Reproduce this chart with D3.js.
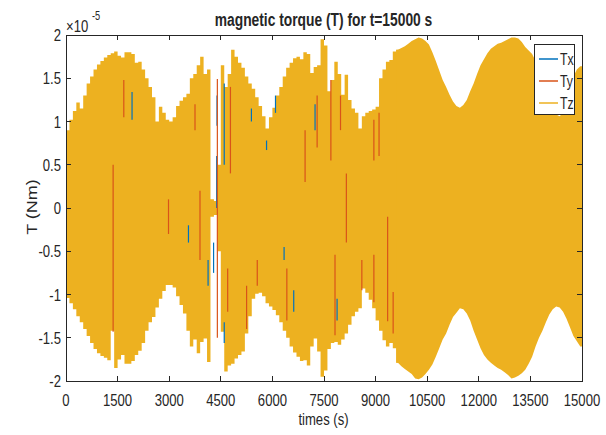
<!DOCTYPE html>
<html>
<head>
<meta charset="utf-8">
<script src="https://cdn.jsdelivr.net/npm/d3@7/dist/d3.min.js"></script>
<style>
  html, body { margin: 0; padding: 0; background: #fff; }
  svg { display: block; }
  text { font-family: "Liberation Sans", Arial, Helvetica, sans-serif; fill: #262626; }
</style>
</head>
<body>
<svg id="chart" width="606" height="435"></svg>
<script>
// Envelope of the dense torque signal, in units of 1e-5 N·m, one value per 100 s bin
const binSize = 100;
const tzHigh = [
  0.90, 1.02, 1.12, 1.22, 1.15, 1.30, 1.44, 1.52, 1.60, 1.66,
  1.70, 1.74, 1.77, 1.79, 1.81, 1.76, 1.74, 1.80, 1.80, 1.78,
  1.68, 1.69, 1.60, 1.50, 1.40, 1.28, 1.00, 1.17, 1.10, 1.02,
  1.00, 1.05, 1.18, 1.24, 1.28, 1.32, 1.50, 1.55, 1.65, 1.75,
  1.55, 1.60, 0.10, 0.08, 0.50, 1.65, 1.40, 1.55, 1.83, 1.75,
  1.68, 1.62, 1.52, 1.44, 1.38, 1.28, 1.18, 1.06, 0.92, 1.05,
  1.16, 1.30, 1.40, 1.52, 1.62, 1.68, 1.73, 1.75, 1.72, 1.80,
  1.78, 1.56, 1.63, 1.65, 1.95, 1.88, 1.35, 1.48, 1.69, 1.55,
  1.31, 1.54, 1.25, 1.15, 1.10, 0.92, 1.06, 1.10, 1.12, 1.14,
  1.17, 1.50, 1.60, 1.69, 1.71, 1.81, 1.83, 1.85, 1.87, 1.90,
  1.93, 1.95, 1.97, 1.96, 1.93, 1.89, 1.80, 1.70, 1.59, 1.48,
  1.40, 1.31, 1.23, 1.18, 1.16, 1.19, 1.25, 1.35, 1.44, 1.55,
  1.65, 1.72, 1.79, 1.84, 1.87, 1.90, 1.91, 1.93, 1.95, 1.97,
  1.97, 1.96, 1.92, 1.86, 1.82, 1.78, 1.70, 1.60, 1.48, 1.36,
  1.25, 1.15, 1.08, 1.06, 1.10, 1.22, 1.38, 1.52, 1.60, 1.64
];
const tzLow = [
  -1.04, -1.10, -1.17, -1.25, -1.32, -1.40, -1.48, -1.56, -1.63, -1.68,
  -1.71, -1.73, -1.76, -1.42, -1.85, -1.75, -1.70, -1.80, -1.80, -1.77,
  -1.70, -1.65, -1.56, -1.42, -1.32, -1.26, -1.15, -1.05, -0.96, -0.89,
  -0.89, -0.92, -1.02, -1.12, -1.22, -1.42, -1.60, -1.52, -1.68, -1.55,
  -1.51, -1.78, -0.10, -0.08, -0.50, -1.43, -1.89, -1.82, -1.80, -1.74,
  -1.70, -1.66, -1.45, -1.25, -1.05, -0.99, -0.98, -1.02, -1.10, -1.14,
  -1.18, -1.24, -1.32, -1.42, -1.50, -1.60, -1.67, -1.72, -1.77, -1.76,
  -1.82, -1.60, -1.51, -1.66, -1.95, -1.88, -1.63, -1.56, -1.55, -1.58,
  -1.52, -1.45, -1.35, -1.25, -1.20, -1.16, -0.93, -0.98, -1.06, -1.16,
  -1.30, -1.42, -1.53, -1.60, -1.56, -1.62, -1.79, -1.83, -1.86, -1.89,
  -1.92, -1.97, -1.98, -1.96, -1.92, -1.87, -1.81, -1.72, -1.62, -1.52,
  -1.45, -1.35, -1.26, -1.21, -1.16, -1.17, -1.22, -1.30, -1.42, -1.52,
  -1.62, -1.70, -1.75, -1.79, -1.82, -1.85, -1.87, -1.90, -1.93, -1.97,
  -1.96, -1.94, -1.91, -1.87, -1.80, -1.72, -1.60, -1.50, -1.42, -1.32,
  -1.23, -1.17, -1.14, -1.15, -1.20, -1.28, -1.38, -1.48, -1.54, -1.60
];
// Where the Tx and Ty traces show through: [time (s), low, high]
const txStreaks = [
  [1920, 1.02, 1.34], [4380, 0.00, 0.60], [4390, 0.95, 1.30], [4600, 0.50, 1.44],
  [4600, -1.56, -1.32], [4290, -0.75, -0.40], [5830, 0.67, 0.78], [6340, -0.60, -0.45],
  [6620, -1.20, -0.95], [7240, 0.90, 1.20], [7880, -1.30, -1.05], [6090, 1.10, 1.30],
  [4130, -0.90, -0.60], [5390, 1.00, 1.15], [3560, -0.40, -0.20]
];
const tyStreaks = [
  [1370, -1.43, 0.50], [1680, 1.05, 1.48], [3895, -0.60, 0.20], [4400, -1.50, 1.49],
  [4780, 0.40, 1.40], [7700, 0.55, 1.48], [7820, -1.47, -0.54], [8950, 0.55, 1.02],
  [8950, -1.09, -0.54], [9350, -1.31, -0.10], [9510, -1.45, -0.97], [6420, -1.30, -0.70],
  [5250, -1.40, -0.90], [7300, 0.70, 1.30], [8150, -0.40, 0.40], [3750, 0.90, 1.20],
  [4700, -1.20, -0.70], [5560, -0.90, -0.60], [6950, 0.30, 0.90], [7980, 0.90, 1.30],
  [8600, -0.95, -0.60], [9100, 0.60, 1.10], [2980, -0.30, 0.10]
];
const xTicks = [0, 1500, 3000, 4500, 6000, 7500, 9000, 10500, 12000, 13500, 15000];
const yTicks = [-2, -1.5, -1, -0.5, 0, 0.5, 1, 1.5, 2];
const seriesNames = ["Tx", "Ty", "Tz"];
const seriesColors = ["#0072BD", "#D95319", "#EDB120"];
const smoothFrom = 9600; // after this the oscillation envelope is smooth

const svg = d3.select("#chart");
const x = d3.scaleLinear().domain([0, 15000]).range([66, 582]);
const y = d3.scaleLinear().domain([-2, 2]).range([381, 35]);
const axisColor = "#262626";
const SX = 0.77; // horizontal squeeze for the condensed lettering

function label(g, px, py, txt, opts = {}) {
  return g.append("text")
    .attr("transform", `translate(${px},${py}) scale(${opts.sx || SX},1)` + (opts.rotate ? ` rotate(${opts.rotate})` : ""))
    .attr("text-anchor", opts.anchor || "middle")
    .attr("font-size", opts.size || 17)
    .attr("font-weight", opts.weight || "normal")
    .text(txt);
}

const bins = tzHigh.map((hi, i) => ({ t: i * binSize, hi, lo: tzLow[i] }));

const plot = svg.append("g");
plot.append("clipPath").attr("id", "clip")
  .append("rect").attr("x", 66).attr("y", 35).attr("width", 516).attr("height", 346);
const data = plot.append("g").attr("clip-path", "url(#clip)");

// Irregular first part: step envelope per bin (runs one bin past the joint so the two parts overlap)
const stepPts = bins.filter(b => b.t <= smoothFrom);
stepPts.push({ t: smoothFrom + binSize, hi: stepPts[stepPts.length - 1].hi, lo: stepPts[stepPts.length - 1].lo });
data.append("path")
  .datum(stepPts)
  .attr("fill", seriesColors[2])
  .attr("d", d3.area().curve(d3.curveStepAfter)
    .x(d => x(d.t)).y0(d => y(d.lo)).y1(d => y(d.hi)));

// Smooth later part: envelope through bin values
const smoothPts = bins.filter(b => b.t >= smoothFrom).map(b => ({ t: b.t + binSize / 2, hi: b.hi, lo: b.lo }));
smoothPts.unshift({ t: smoothFrom, hi: bins[smoothFrom / binSize].hi, lo: bins[smoothFrom / binSize].lo });
smoothPts.push({ t: 15000, hi: tzHigh[tzHigh.length - 1], lo: tzLow[tzLow.length - 1] });
data.append("path")
  .datum(smoothPts)
  .attr("fill", seriesColors[2])
  .attr("d", d3.area().curve(d3.curveLinear)
    .x(d => x(d.t)).y0(d => y(d.lo)).y1(d => y(d.hi)));

// Visible Tx / Ty traces
[[txStreaks, seriesColors[0]], [tyStreaks, seriesColors[1]]].forEach(([arr, col]) => {
  data.selectAll(null).data(arr).enter().append("line")
    .attr("x1", d => x(d[0])).attr("x2", d => x(d[0]))
    .attr("y1", d => y(d[1])).attr("y2", d => y(d[2]))
    .attr("stroke", col).attr("stroke-width", 1.2);
});

// Axes box with inward ticks
const ax = svg.append("g").attr("stroke", axisColor).attr("stroke-width", 1).attr("fill", "none")
  .attr("shape-rendering", "crispEdges");
ax.append("rect").attr("x", 66).attr("y", 35).attr("width", 516).attr("height", 346);
xTicks.forEach(v => {
  ax.append("line").attr("x1", x(v)).attr("x2", x(v)).attr("y1", 381).attr("y2", 376);
  ax.append("line").attr("x1", x(v)).attr("x2", x(v)).attr("y1", 35).attr("y2", 40);
});
yTicks.forEach(v => {
  ax.append("line").attr("x1", 66).attr("x2", 71).attr("y1", y(v)).attr("y2", y(v));
  ax.append("line").attr("x1", 582).attr("x2", 577).attr("y1", y(v)).attr("y2", y(v));
});

const txt = svg.append("g");
xTicks.forEach(v => label(txt, x(v), 406, String(v)));
yTicks.forEach(v => label(txt, 61, y(v) + 6, String(v), { anchor: "end" }));

// Exponent marker
label(txt, 66, 32, "\u00d710", { anchor: "start" });
label(txt, 92, 20, "-5", { anchor: "start", size: 12 });

// Titles
label(txt, 323.5, 26, "magnetic torque (T) for t=15000 s", { weight: "bold", size: 17.5, sx: 0.79 });
label(txt, 323.5, 425, "times (s)", { sx: 0.77 });
label(txt, 37, 207, "T (Nm)", { rotate: -90, size: 18 });

// Legend
const lg = svg.append("g");
lg.append("rect").attr("x", 534.5).attr("y", 44.5).attr("width", 40).attr("height", 70)
  .attr("fill", "#fff").attr("stroke", axisColor).attr("stroke-width", 1);
seriesNames.forEach((name, i) => {
  const ly = 59 + i * 22;
  lg.append("line").attr("x1", 539).attr("x2", 558).attr("y1", ly).attr("y2", ly)
    .attr("stroke", seriesColors[i]).attr("stroke-width", 1.5);
  label(lg, 560, ly + 5.5, name, { anchor: "start", size: 16 });
});
</script>
</body>
</html>
